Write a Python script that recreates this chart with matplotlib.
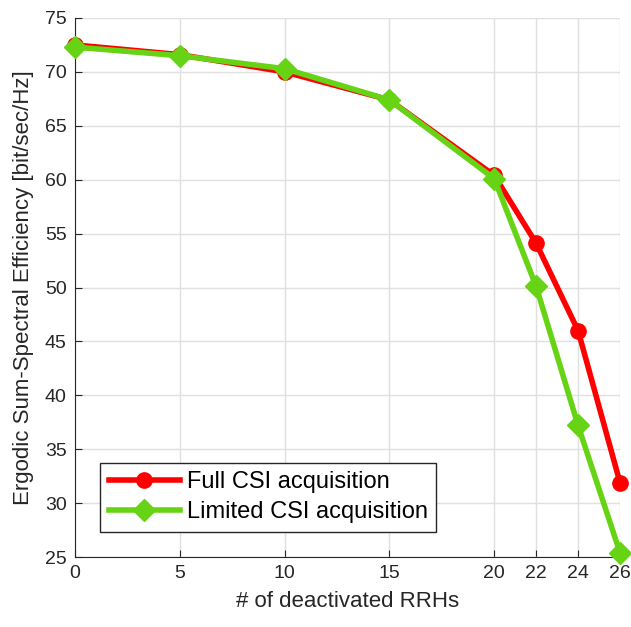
import matplotlib.pyplot as plt

plt.rcParams['font.family'] = ['Liberation Sans', 'DejaVu Sans']

rrhs = [0, 5, 10, 15, 20, 22, 24, 26]
full_csi = [72.5, 71.6, 70.0, 67.4, 60.4, 54.1, 46.0, 31.9]
limited_csi = [72.3, 71.5, 70.3, 67.4, 60.1, 50.1, 37.2, 25.4]
yticks = [25, 30, 35, 40, 45, 50, 55, 60, 65, 70, 75]

fig = plt.figure(figsize=(6.31, 6.27), dpi=100)
ax = fig.add_axes([75 / 631, 1 - 557 / 627, 545 / 631, 539 / 627])

ax.plot(rrhs, full_csi, color='#ff0000', lw=4, marker='o', ms=11,
        label='Full CSI acquisition', zorder=3, clip_on=False)
ax.plot(rrhs, limited_csi, color='#66d414', lw=4, marker='D', ms=11,
        label='Limited CSI acquisition', zorder=4, clip_on=False)

ax.set_xlim(0, 26)
ax.set_ylim(25, 75)
ax.set_xticks(rrhs)
ax.set_yticks(yticks)
ax.tick_params(direction='in', labelsize=14, colors='#262626', length=5, pad=6)
ax.grid(True, color='#e0e0e0', lw=1)
ax.set_axisbelow(True)
for s in ['left', 'bottom']:
    ax.spines[s].set_color('#262626')
for s in ['top', 'right']:
    ax.spines[s].set_visible(False)

ax.set_xlabel('# of deactivated RRHs', fontsize=16, color='#262626', labelpad=6)
ax.set_ylabel('Ergodic Sum-Spectral Efficiency [bit/sec/Hz]', fontsize=16, color='#262626',
              labelpad=8)

leg = ax.legend(loc='lower left', bbox_to_anchor=(0.025, 0.025), fontsize=17,
                fancybox=False, edgecolor='#262626', framealpha=1,
                handlelength=3.0, borderpad=0.35, labelspacing=0.35, handletextpad=0.3)
leg.get_frame().set_linewidth(1)

fig.savefig('out.png', dpi=100)
